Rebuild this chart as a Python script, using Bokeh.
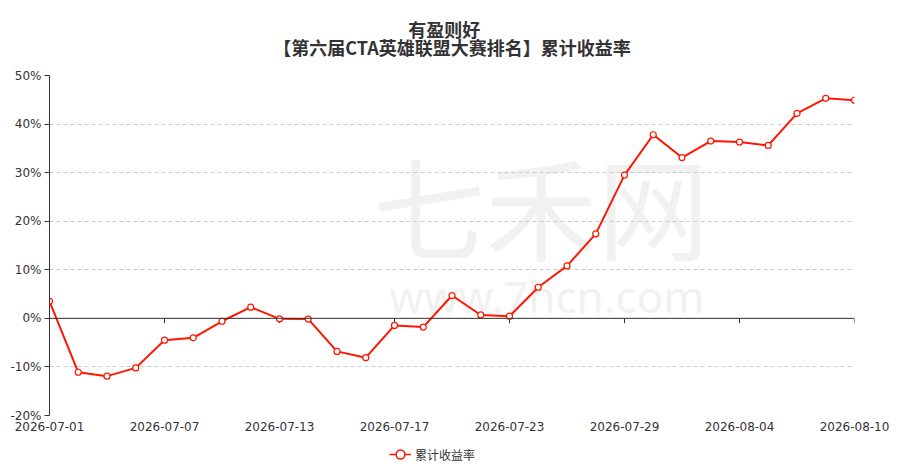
from bokeh.plotting import figure
from bokeh.layouts import column
from bokeh.models import (Range1d, FixedTicker, PrintfTickFormatter, Legend,
                          LegendItem, Span, Label)
from bokeh.embed import file_html
from bokeh.resources import INLINE

dates = ["2026-07-01", "2026-07-02", "2026-07-03", "2026-07-06", "2026-07-07",
         "2026-07-08", "2026-07-09", "2026-07-10", "2026-07-13", "2026-07-14",
         "2026-07-15", "2026-07-16", "2026-07-17", "2026-07-20", "2026-07-21",
         "2026-07-22", "2026-07-23", "2026-07-24", "2026-07-27", "2026-07-28",
         "2026-07-29", "2026-07-30", "2026-07-31", "2026-08-03", "2026-08-04",
         "2026-08-05", "2026-08-06", "2026-08-07", "2026-08-10"]
returns = [3.5, -11.1, -11.9, -10.2, -4.5, -4.0, -0.6, 2.3, -0.1, -0.15,
           -6.8, -8.1, -1.45, -1.8, 4.7, 0.7, 0.45, 6.4, 10.8, 17.4,
           29.5, 37.8, 33.1, 36.5, 36.3, 35.6, 42.2, 45.3, 44.9]
y_ticks = [-20, -10, 0, 10, 20, 30, 40, 50]
label_step = 4
series_name = "累计收益率"
title_line1 = "有盈则好"
title_line2 = "【第六届CTA英雄联盟大赛排名】累计收益率"

FONT = "Noto Sans CJK SC"
AXFONT = "DejaVu Sans"
RED = "#ff1500"
xs = list(range(len(dates)))
x_ticks = xs[::label_step]

p = figure(frame_width=805, frame_height=340,
           min_border_left=49, min_border_right=55, min_border_top=75, min_border_bottom=25,
           x_range=Range1d(0, len(dates) - 1), y_range=Range1d(y_ticks[0], y_ticks[-1]),
           output_backend="svg", toolbar_location=None)
p.outline_line_color = None
p.background_fill_color = "white"

# two-line title; lines of a Bokeh title block are left aligned, so the short
# first line is led by ideographic spaces to sit centred over the second line
pad = "\u3000" * 7 + "\u2002"
p.title.text = pad + title_line1 + "\n" + title_line2
p.title.align = "center"
p.title.vertical_align = "top"
p.title.text_font = FONT
p.title.text_font_size = "18px"
p.title.text_font_style = "bold"
p.title.text_color = "#333333"
p.title.text_line_height = 0.7
p.title.standoff = 28

# watermark
p.add_layout(Label(x=17.1, y=23.5, text="七禾网", text_align="center", text_baseline="middle",
                   text_font=FONT, text_font_size="112px", text_color="#f1f1f1", level="image"))
p.add_layout(Label(x=17.3, y=4.6, text="www.7hcn.com", text_align="center",
                   text_baseline="alphabetic", text_font="Noto Sans", text_font_size="44px",
                   text_color="#f1f1f1", level="image"))

# grid
p.xgrid.grid_line_color = None
p.ygrid.grid_line_color = "#cccccc"
p.ygrid.grid_line_dash = "4 3"

# y axis
p.yaxis.ticker = FixedTicker(ticks=y_ticks)
p.yaxis.formatter = PrintfTickFormatter(format="%d%%")
p.yaxis.axis_line_color = "#333333"
p.yaxis.major_tick_line_color = "#333333"
p.yaxis.major_tick_out = 5
p.yaxis.major_tick_in = 0
p.yaxis.minor_tick_line_color = None
p.yaxis.minor_tick_out = 0
p.yaxis.major_label_standoff = 3
p.yaxis.major_label_text_font = AXFONT
p.yaxis.major_label_text_font_size = "12px"
p.yaxis.major_label_text_color = "#333333"

# x axis
p.xaxis.ticker = FixedTicker(ticks=x_ticks)
p.xaxis.major_label_overrides = {i: dates[i] for i in x_ticks}
p.xaxis.axis_line_color = None
p.xaxis.major_tick_line_color = None
p.xaxis.minor_tick_line_color = None
p.xaxis.major_tick_out = 0
p.xaxis.major_tick_in = 0
p.xaxis.minor_tick_out = 0
p.xaxis.minor_tick_in = 0
p.xaxis.major_label_standoff = 6
p.xaxis.major_label_text_font = AXFONT
p.xaxis.major_label_text_font_size = "12px"
p.xaxis.major_label_text_color = "#333333"

# zero axis line with ticks
p.add_layout(Span(location=0, dimension="width", line_color="#333333", line_width=1))
p.segment(x0=x_ticks, y0=[0] * len(x_ticks), x1=x_ticks, y1=[-1.0] * len(x_ticks),
          line_color="#333333", line_width=1)

line_r = p.line(xs, returns, line_color=RED, line_width=2)
pts_r = p.scatter(xs, returns, size=6, fill_color="white", line_color=RED, line_width=1.2)

# legend strip underneath: same series in a small canvas whose ranges lie
# beyond the data, so only the legend entry itself is visible
lg = figure(frame_width=864, frame_height=28, min_border=0, x_axis_type=None, y_axis_type=None,
            x_range=Range1d(len(xs) + 1, len(xs) + 2), y_range=Range1d(y_ticks[-1] + 10, y_ticks[-1] + 20),
            output_backend="svg", toolbar_location=None)
lg.outline_line_color = None
lg.grid.visible = False
lg_line = lg.line(xs, returns, line_color=RED, line_width=1.5)
lg_pts = lg.scatter(xs, returns, size=6, fill_color="white", line_color=RED, line_width=1.5)
legend = Legend(items=[LegendItem(label=series_name, renderers=[lg_line, lg_pts])],
                location="center", orientation="horizontal", border_line_color=None,
                background_fill_alpha=0, label_text_font=FONT, label_text_font_size="12px",
                label_text_color="#333333", glyph_width=22, glyph_height=24, label_height=14,
                padding=0, margin=0, label_standoff=4)
lg.add_layout(legend, "center")

open("out.html", "w").write(file_html(column(p, lg, spacing=0), INLINE))
